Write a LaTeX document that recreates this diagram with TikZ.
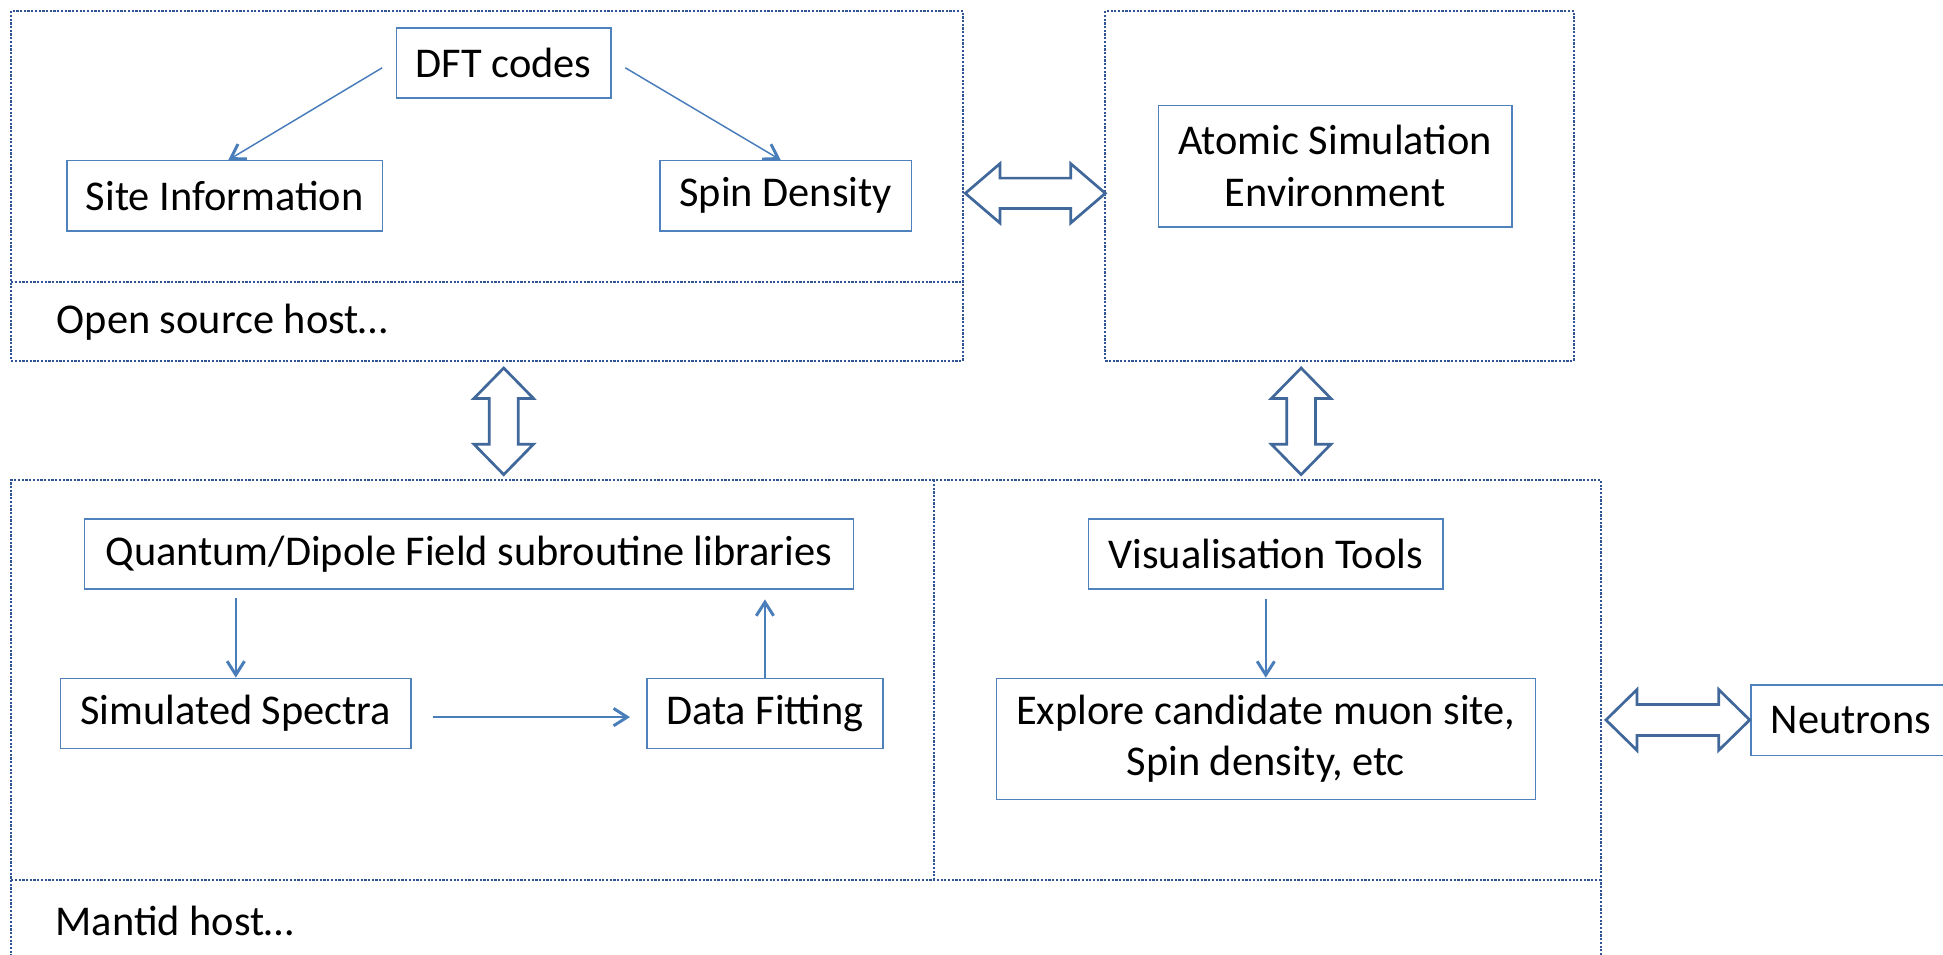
\documentclass[tikz,border=0pt]{standalone}
\usepackage{fontspec}
\setmainfont{Carlito}
\usetikzlibrary{arrows.meta,calc}
\definecolor{boxline}{RGB}{79,129,189}
\definecolor{arrline}{RGB}{74,126,187}
\definecolor{dotline}{RGB}{47,85,151}
\definecolor{blockline}{RGB}{65,104,154}
\newcommand{\blockH}[6]{% x1,x2,cy,headw,shaftw,headlen
  \draw[blockarrow] (#1,#3) -- ({#1+#6},{#3-#4/2}) -- ({#1+#6},{#3-#5/2}) -- ({#2-#6},{#3-#5/2}) -- ({#2-#6},{#3-#4/2}) -- (#2,#3) -- ({#2-#6},{#3+#4/2}) -- ({#2-#6},{#3+#5/2}) -- ({#1+#6},{#3+#5/2}) -- ({#1+#6},{#3+#4/2}) -- cycle;}
\newcommand{\blockV}[6]{% y1,y2,cx,headw,shaftw,headlen
  \draw[blockarrow] (#3,#1) -- ({#3-#4/2},{#1+#6}) -- ({#3-#5/2},{#1+#6}) -- ({#3-#5/2},{#2-#6}) -- ({#3-#4/2},{#2-#6}) -- (#3,#2) -- ({#3+#4/2},{#2-#6}) -- ({#3+#5/2},{#2-#6}) -- ({#3+#5/2},{#1+#6}) -- ({#3+#4/2},{#1+#6}) -- cycle;}
\tikzset{
  box/.style={draw=boxline, line width=0.6bp, fill=white, inner sep=0pt, align=center,
    font=\fontsize{17.1bp}{20.8bp}\selectfont},
  conn/.style={draw=arrline, line width=0.6bp, -{Straight Barb[length=5.5bp,width=7bp,line width=1.2bp]}},
  region/.style={draw=dotline, line width=0.85bp, dash pattern=on 0.9bp off 0.6bp},
  blockarrow/.style={draw=blockline, line width=1.1bp, fill=white, line join=miter},
  hosttext/.style={anchor=west, inner sep=0pt, font=\fontsize{17.1bp}{20.8bp}\selectfont}
}
\begin{document}
\begin{tikzpicture}[x=0.5bp,y=-0.5bp]
\useasboundingbox (0,0) rectangle (1568,770);
% dotted regions
\draw[region] (9,9) rectangle (777,291);
\draw[region] (9,227.5) -- (777,227.5);
\draw[region] (892,9) rectangle (1270,291);
\draw[region] (9,787) -- (9,387.5) -- (1292,387.5) -- (1292,787);
\draw[region] (9,710) -- (1292,710);
\draw[region] (754,387.5) -- (754,710);
% nodes
\node[box, minimum width=86.5bp, minimum height=28.3bp] (dft) at (406.5,50.7) {DFT codes};
\node[box, minimum width=127.3bp, minimum height=28.3bp] (site) at (181.3,158) {Site Information};
\node[box, minimum width=101.4bp, minimum height=28.3bp] (spin) at (634,158) {Spin Density};
\node[box, minimum width=142.5bp, minimum height=49bp] (ase) at (1077.5,134) {Atomic Simulation\\Environment};
\node[box, minimum width=310.2bp, minimum height=28.3bp] (quant) at (378.4,447.2) {Quantum/Dipole Field subroutine libraries};
\node[box, minimum width=141.4bp, minimum height=28.3bp] (sim) at (190.3,575.7) {Simulated Spectra};
\node[box, minimum width=95.3bp, minimum height=28.3bp] (fit) at (617.3,575.7) {Data Fitting};
\node[box, minimum width=143bp, minimum height=28.2bp] (vis) at (1021.5,447.2) {Visualisation Tools};
\node[box, minimum width=217.5bp, minimum height=48.8bp] (expl) at (1021.5,596.3) {Explore candidate muon site,\\Spin density, etc};
\node[box, minimum width=84bp, minimum height=28.3bp, text width=80bp, align=left] (neut) at (1497,581.2) {\hspace*{6bp}Neutrons};
\node[hosttext] (osh) at (45.4,260) {Open source host…};
\node[hosttext] (mh) at (44.5,743) {Mantid host…};
% connectors
\draw[conn] ([xshift=-5.5bp,yshift=-2bp]dft.west) -- ([xshift=1.5bp]site.north);
\draw[conn] ([xshift=5.5bp,yshift=-2bp]dft.east) -- ([xshift=-2bp]spin.north);
\draw[conn, shorten <=3.3bp] (quant.south -| sim.north) -- (sim.north);
\draw[conn, shorten <=8.5bp, shorten >=6.5bp] ([yshift=-1.5bp]sim.east) -- ([yshift=-1.5bp]sim.east -| fit.west);
\draw[conn, shorten >=3.8bp] (fit.north) -- (fit.north |- quant.south);
\draw[conn, shorten <=3.5bp] (vis.south) -- (expl.north);
% block arrows
\blockH{779}{892}{156}{48}{24.5}{28}
\blockV{297}{383}{406.5}{48}{23.5}{24.5}
\blockV{297}{383}{1050}{48}{23.3}{24.5}
\blockH{1296}{1412}{581}{49}{25}{25}
\end{tikzpicture}
\end{document}
